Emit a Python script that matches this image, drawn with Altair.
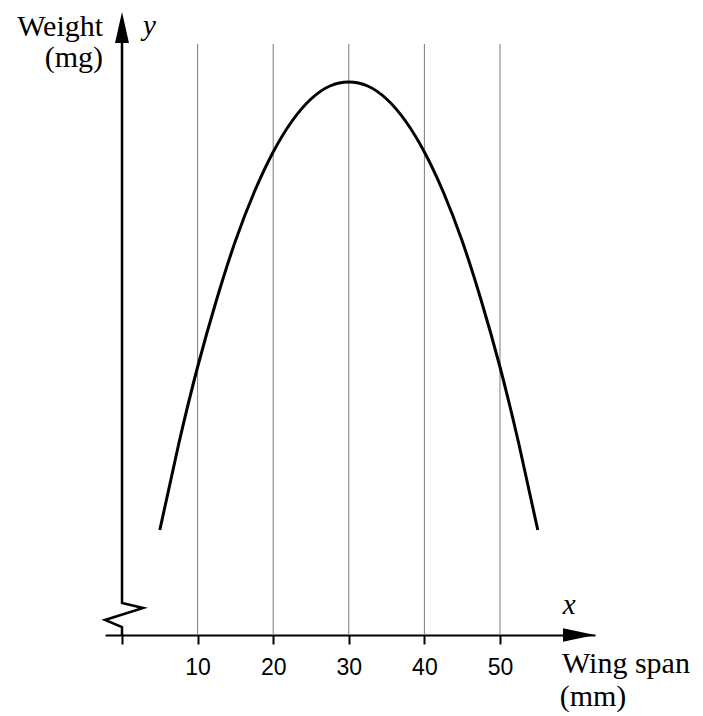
import altair as alt
import pandas as pd

# Curve data (wing span mm vs weight, arbitrary units)
wing_span = [5, 7.5, 10, 12.5, 15, 17.5, 20, 22.5, 25, 27.5, 30,
             32.5, 35, 37.5, 40, 42.5, 45, 47.5, 50, 52.5, 55]
weight = [10.5, 19.1, 26.8, 33.5, 39.4, 44.3, 48.3, 51.4, 53.6, 54.9, 55.3,
          54.9, 53.6, 51.4, 48.3, 44.3, 39.4, 33.5, 26.8, 19.1, 10.5]

# grid lines
grid_x = [10, 20, 30, 40, 50]
grid_top = 59.1

# x axis ticks
tick_values = [0, 10, 20, 30, 40, 50]

# y-axis line with break (zigzag)
yaxis_x = [0, 0, 2.8, -2.25, 0, 0]
yaxis_y = [59.2, 3.2, 2.7, 1.5, 0.8, 0]

# arrowheads
arrow_x = [0, 60.45]
arrow_y = [60.75, 0]

# text labels
lab_text = ["Weight", "(mg)", "Wing span", "(mm)"]
lab_x = [-2.5, -2.5, 58.2, 57.9]
lab_y = [59.9, 56.8, -3.8, -7.1]
lab_align = ["right", "right", "left", "left"]

var_text = ["y", "x"]
var_x = [2.78, 58.3]
var_y = [60.0, 2.1]

xscale = alt.Scale(domain=[-2.25, 62.57], nice=False, zero=False)
yscale = alt.Scale(domain=[0, 62.3], nice=False, zero=False)

xaxis = alt.Axis(
    values=tick_values,
    labelExpr="datum.value == 0 ? '' : datum.label",
    title=None,
    grid=False,
    domainColor="black",
    domainWidth=2,
    tickColor="black",
    tickWidth=2,
    tickSize=9,
    labelFont="Liberation Sans",
    labelFontSize=23,
    labelColor="black",
    labelPadding=12,
)


def X(field):
    return alt.X(field, type="quantitative", scale=xscale, axis=xaxis)


def Y(field):
    return alt.Y(field, type="quantitative", scale=yscale, axis=None)


curve_df = pd.DataFrame({"x": wing_span, "y": weight})
grid_df = pd.DataFrame({"x": grid_x, "y0": [0] * len(grid_x), "y1": [grid_top] * len(grid_x)})
yaxis_df = pd.DataFrame({"x": yaxis_x, "y": yaxis_y, "o": list(range(len(yaxis_x)))})
lab_df = pd.DataFrame({"t": lab_text, "x": lab_x, "y": lab_y, "a": lab_align})
var_df = pd.DataFrame({"t": var_text, "x": var_x, "y": var_y})

grid = alt.Chart(grid_df).mark_rule(color="#7a7a7a", strokeWidth=1).encode(
    x=X("x"), y=Y("y0"), y2="y1"
)

curve = alt.Chart(curve_df).mark_line(
    color="black", strokeWidth=3, interpolate="natural"
).encode(x=X("x"), y=Y("y"))

yaxis_line = alt.Chart(yaxis_df).mark_line(
    color="black", strokeWidth=2.5, interpolate="linear"
).encode(x=X("x"), y=Y("y"), order="o:Q")

up_arrow = alt.Chart(pd.DataFrame({"x": [arrow_x[0]], "y": [arrow_y[0]]})).mark_point(
    shape="M0,-1 L0.45,1 L-0.45,1 Z", filled=True, size=961, color="black", opacity=1, strokeWidth=0
).encode(x=X("x"), y=Y("y"))

right_arrow = alt.Chart(pd.DataFrame({"x": [arrow_x[1]], "y": [arrow_y[1]]})).mark_point(
    shape="M1,0 L-1,-0.42 L-1,0.42 Z", filled=True, size=1024, color="black", opacity=1, strokeWidth=0
).encode(x=X("x"), y=Y("y"))

labels_r = alt.Chart(lab_df[lab_df.a == "right"]).mark_text(
    font="Liberation Serif", fontSize=30, color="black", align="right", baseline="alphabetic"
).encode(x=X("x"), y=Y("y"), text="t:N")

labels_l = alt.Chart(lab_df[lab_df.a == "left"]).mark_text(
    font="Liberation Serif", fontSize=30, color="black", align="left", baseline="alphabetic"
).encode(x=X("x"), y=Y("y"), text="t:N")

vars_ = alt.Chart(var_df).mark_text(
    font="Liberation Serif", fontSize=29, fontStyle="italic", color="black",
    align="left", baseline="alphabetic"
).encode(x=X("x"), y=Y("y"), text="t:N")

chart = alt.layer(
    grid, curve, yaxis_line, up_arrow, right_arrow, labels_r, labels_l, vars_
).properties(
    width=490,
    height=623,
    background="white",
    padding={"left": 97, "top": 4, "right": 100, "bottom": 80},
    autosize=alt.AutoSizeParams(type="none"),
).configure_view(stroke="transparent", strokeWidth=0)

chart.save("out.html", embed_options={"renderer": "svg", "actions": False})
